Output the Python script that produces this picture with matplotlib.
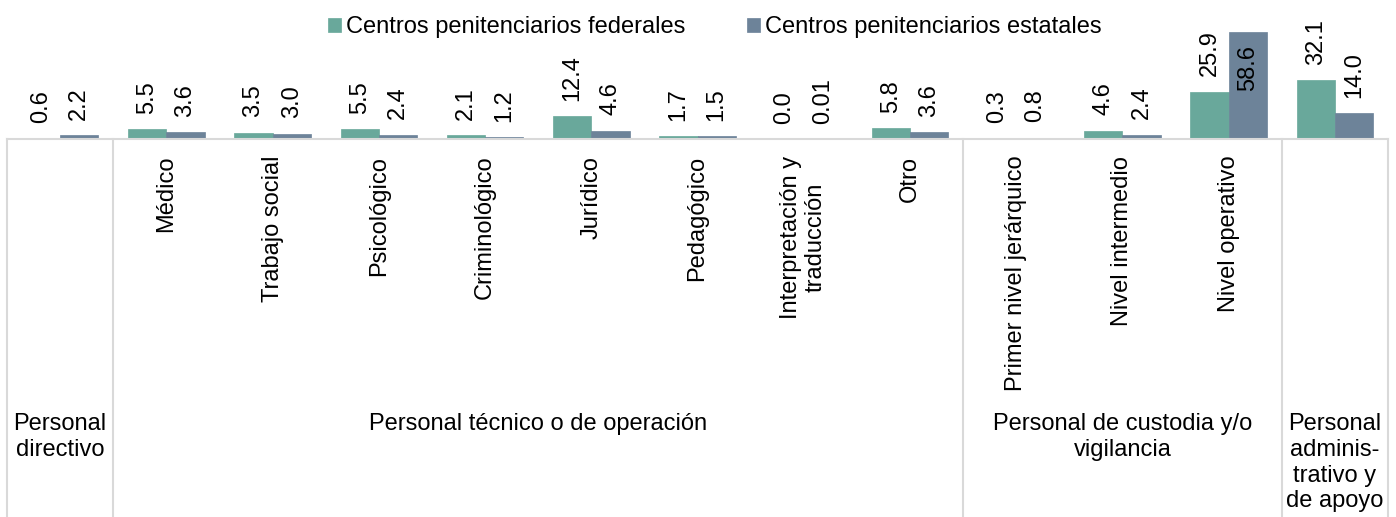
import numpy as np
import matplotlib.pyplot as plt
from matplotlib.transforms import blended_transform_factory

plt.rcParams['font.family'] = ['Liberation Sans', 'DejaVu Sans']

categorias = ['', 'Médico', 'Trabajo social', 'Psicológico', 'Criminológico',
              'Jurídico', 'Pedagógico', 'Interpretación y\ntraducción', 'Otro',
              'Primer nivel jerárquico', 'Nivel intermedio', 'Nivel operativo', '']
federales = [0.6, 5.5, 3.5, 5.5, 2.1, 12.4, 1.7, 0.0, 5.8, 0.3, 4.6, 25.9, 32.1]
estatales = [2.2, 3.6, 3.0, 2.4, 1.2, 4.6, 1.5, 0.01, 3.6, 0.8, 2.4, 58.6, 14.0]
etiq_fed = ['0.6', '5.5', '3.5', '5.5', '2.1', '12.4', '1.7', '0.0', '5.8', '0.3', '4.6', '25.9', '32.1']
etiq_est = ['2.2', '3.6', '3.0', '2.4', '1.2', '4.6', '1.5', '0.01', '3.6', '0.8', '2.4', '58.6', '14.0']
grupos = ['Personal\ndirectivo', 'Personal técnico o de operación',
          'Personal de custodia y/o\nvigilancia', 'Personal\nadminis-\ntrativo y\nde apoyo']
grupo_inicio = [0, 1, 9, 12]
grupo_fin = [0, 8, 11, 12]

c_fed = '#69a89b'
c_est = '#6d8399'
fs = 17

fig = plt.figure(figsize=(13.96, 5.17), dpi=100)
ax = fig.add_axes([0.005, 0.731, 0.9893, 0.213])

x = np.arange(len(federales))
w = 0.36
ax.bar(x - w/2, federales, w, color=c_fed, edgecolor=c_fed, linewidth=0.5,
       label='Centros penitenciarios federales')
ax.bar(x + w/2, estatales, w, color=c_est, edgecolor=c_est, linewidth=0.5,
       label='Centros penitenciarios estatales')

ax.set_xlim(-0.5, len(x) - 0.5)
ax.set_ylim(0, 60)
ax.set_yticks([])
for s in ['top', 'right', 'left']:
    ax.spines[s].set_visible(False)
ax.spines['bottom'].set_color('#d9d9d9')
ax.spines['bottom'].set_linewidth(1.5)

# etiquetas de datos
for xs, vals, labs in [(x - w/2, federales, etiq_fed), (x + w/2, estatales, etiq_est)]:
    for xi, v, t in zip(xs, vals, labs):
        if v > 50:
            ax.annotate(t, (xi, v), xytext=(0, -10), textcoords='offset points',
                        rotation=90, ha='center', va='top', fontsize=fs)
        else:
            ax.annotate(t, (xi, v), xytext=(0, 11), textcoords='offset points',
                        rotation=90, ha='center', va='bottom', fontsize=fs)

ax.set_xticks(x)
ax.set_xticklabels(categorias, rotation=90, fontsize=fs, va='top', ha='center',
                   linespacing=1.15)
ax.tick_params(axis='x', length=0, pad=12)

trans = blended_transform_factory(ax.transData, ax.transAxes)
sep = [-0.5, 0.5, 8.5, 11.5, 12.5]
for s in sep:
    ax.plot([s, s], [0, -3.6], color='#d9d9d9', lw=1.5, transform=trans, clip_on=False)

for g, a, b in zip(grupos, grupo_inicio, grupo_fin):
    ax.text((a + b) / 2, -2.49, g, transform=trans, ha='center', va='top',
            fontsize=fs, linespacing=1.22)

fig.legend(loc='upper center', bbox_to_anchor=(0.512, 1.01), ncol=2, frameon=False,
           fontsize=fs, handlelength=0.55, handleheight=0.55, handletextpad=0.2,
           columnspacing=2.6)

fig.savefig('out.png', dpi=100)
